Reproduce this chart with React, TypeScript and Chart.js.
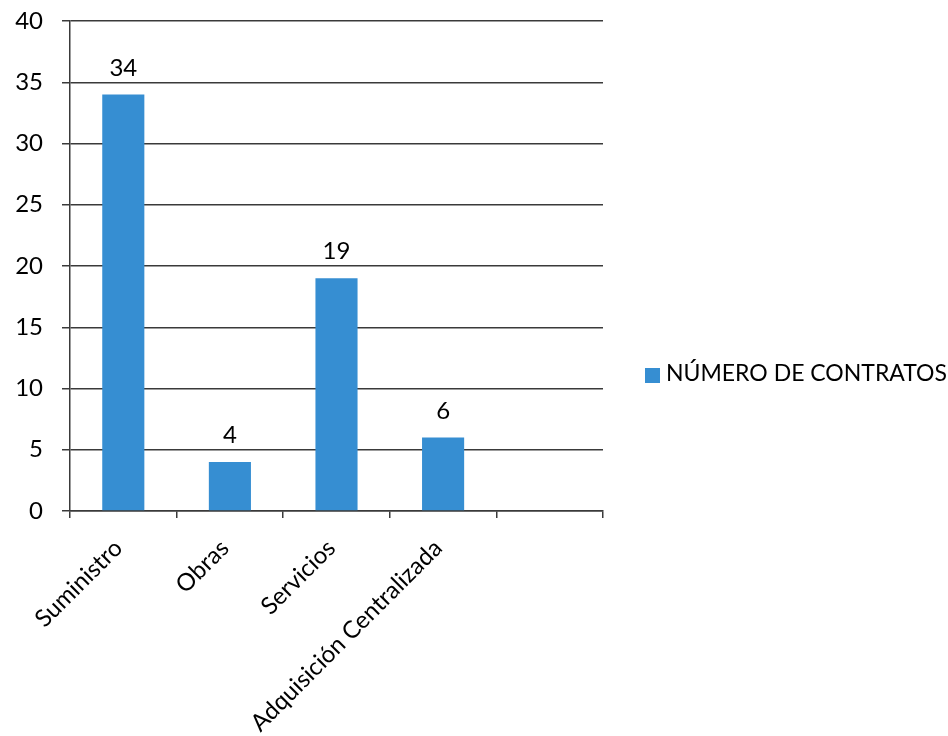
import { useEffect, useRef } from "react";
import { Chart, registerables } from "chart.js";

Chart.register(...registerables);

const categories = ["Suministro", "Obras", "Servicios", "Adquisición Centralizada", ""];
const seriesName = "NÚMERO DE CONTRATOS";
const contratos: (number | null)[] = [34, 4, 19, 6, null];
const yMin = 0;
const yMax = 40;
const yStep = 5;

const BAR_COLOR = "#368ed2";
const LINE_COLOR = "#3a3a3a";
const TEXT_COLOR = "#000000";
const FONT = "Lato";
const FONT_SIZE = 24;
const LEGEND_FONT_SIZE = 23;

const valueLabels = {
  id: "valueLabels",
  afterDatasetsDraw(chart: any) {
    const ctx = chart.ctx;
    ctx.save();
    ctx.font = `${FONT_SIZE}px ${FONT}`;
    ctx.fillStyle = TEXT_COLOR;
    ctx.textAlign = "center";
    ctx.textBaseline = "alphabetic";
    chart.data.datasets.forEach((ds: any, di: number) => {
      const meta = chart.getDatasetMeta(di);
      meta.data.forEach((el: any, i: number) => {
        const v = ds.data[i];
        if (v === null || v === undefined) return;
        ctx.fillText(String(v), el.x, el.y - 19);
      });
    });
    ctx.restore();
  },
};

const sideLegend = {
  id: "sideLegend",
  afterDraw(chart: any) {
    const ctx = chart.ctx;
    const ds = chart.data.datasets[0];
    ctx.save();
    ctx.fillStyle = ds.backgroundColor;
    ctx.fillRect(645, 368, 15, 15);
    ctx.font = `${LEGEND_FONT_SIZE}px ${FONT}`;
    ctx.fillStyle = TEXT_COLOR;
    ctx.textAlign = "left";
    ctx.textBaseline = "alphabetic";
    ctx.fillText(ds.label, 666, 381);
    ctx.restore();
  },
};

export default function App() {
  const ref = useRef<HTMLCanvasElement | null>(null);
  useEffect(() => {
    let chart: Chart | null = null;
    let cancelled = false;
    const make = () => {
      if (cancelled || !ref.current) return;
      chart = new Chart(ref.current, {
        type: "bar",
        data: {
          labels: categories,
          datasets: [
            {
              label: seriesName,
              data: contratos,
              backgroundColor: BAR_COLOR,
              borderWidth: 0,
              barPercentage: 0.79,
              categoryPercentage: 0.5,
            },
          ],
        },
        options: {
          animation: false,
          responsive: false,
          layout: { padding: { top: 0, right: 345, left: 0, bottom: 0 } },
          plugins: {
            legend: { display: false },
            tooltip: { enabled: false },
          },
          scales: {
            x: {
              offset: true,
              grid: {
                display: true,
                drawOnChartArea: false,
                drawTicks: true,
                tickLength: 7,
                color: LINE_COLOR,
                lineWidth: 1.5,
                offset: true,
              },
              border: { display: true, color: LINE_COLOR, width: 1.5 },
              ticks: {
                color: TEXT_COLOR,
                font: { family: FONT, size: FONT_SIZE },
                minRotation: 45,
                maxRotation: 45,
                autoSkip: false,
                padding: 16,
                labelOffset: -5,
              },
              afterFit: (s: any) => {
                s.height = 225;
              },
            },
            y: {
              min: yMin,
              max: yMax,
              ticks: {
                stepSize: yStep,
                color: TEXT_COLOR,
                font: { family: FONT, size: FONT_SIZE },
                padding: 19,
              },
              grid: {
                color: LINE_COLOR,
                lineWidth: 1.5,
                tickLength: 8,
                drawTicks: true,
              },
              border: { display: true, color: LINE_COLOR, width: 1.5 },
              afterFit: (s: any) => {
                s.width = 70;
                s.paddingTop = 21;
                s.paddingBottom = 0;
              },
            },
          },
        },
        plugins: [valueLabels, sideLegend],
      });
    };
    const fonts: any = (document as any).fonts;
    if (fonts && fonts.load) {
      fonts.load(`${FONT_SIZE}px ${FONT}`).then(make, make);
    } else {
      make();
    }
    return () => {
      cancelled = true;
      if (chart) chart.destroy();
    };
  }, []);
  return (
    <div style={{ position: "fixed", left: 0, top: 0, width: 948, height: 736, background: "#ffffff" }}>
      <canvas ref={ref} width={948} height={736} style={{ display: "block" }} />
    </div>
  );
}
